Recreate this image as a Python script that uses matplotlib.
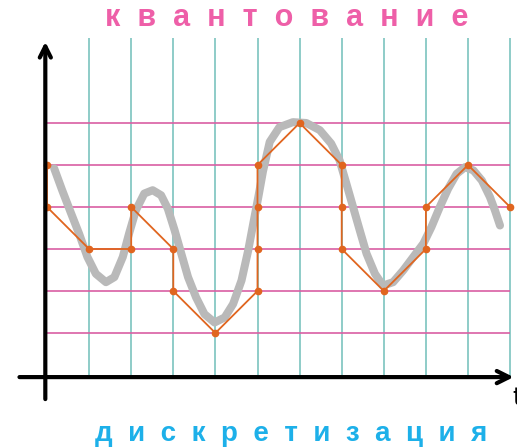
import matplotlib.pyplot as plt

# smooth analog signal (grid units: 1 = one cell)
curve_t = [0.17, 0.36, 0.56, 0.76, 0.96, 1.16, 1.40, 1.60, 1.80, 1.95, 2.11, 2.31,
           2.51, 2.71, 2.87, 3.03, 3.19, 3.35, 3.54, 3.74, 3.98, 4.22, 4.42, 4.62,
           4.78, 4.90, 5.02, 5.13, 5.29, 5.52, 5.84, 6.16, 6.48, 6.75, 6.95, 7.11,
           7.27, 7.43, 7.59, 7.79, 7.98, 8.22, 8.46, 8.70, 8.94, 9.13, 9.33, 9.53,
           9.73, 9.93, 10.13, 10.33, 10.52, 10.64, 10.76]
curve_v = [4.92, 4.40, 3.88, 3.37, 2.81, 2.41, 2.21, 2.33, 2.81, 3.37, 3.92, 4.32,
           4.40, 4.28, 3.96, 3.45, 2.89, 2.33, 1.85, 1.45, 1.25, 1.37, 1.69, 2.25,
           2.97, 3.61, 4.24, 4.85, 5.55, 5.90, 6.02, 6.00, 5.83, 5.51, 5.11, 4.56,
           4.00, 3.44, 2.89, 2.41, 2.13, 2.21, 2.49, 2.81, 3.13, 3.52, 4.00, 4.44,
           4.79, 4.95, 4.87, 4.63, 4.24, 3.92, 3.56]

# sampled / quantized signal
sample_t = [0, 0, 1, 2, 2, 3, 3, 4, 5, 5, 5, 5, 6, 7, 7, 7, 8, 9, 9, 10, 11]
sample_v = [5, 4, 3, 3, 4, 3, 2, 1, 2, 3, 4, 5, 6, 5, 4, 3, 2, 3, 4, 5, 4]

time_lines = list(range(1, 12))
level_lines = [1, 2, 3, 4, 5, 6]

top_label = 'к  в  а  н  т  о  в  а  н  и  е'
bottom_label = 'д  и  с  к  р  е  т  и  з  а  ц  и  я'

W, H = 517, 447
fig = plt.figure(figsize=(W / 100, H / 100), dpi=100)
ax = fig.add_axes([0, 0, 1, 1])
ax.set_xlim(-47 / 42.1, (W - 47) / 42.1)
ax.set_ylim(-(H - 375) / 42, 375 / 42)
ax.axis('off')

# grid
ax.vlines(time_lines, -0.05, 8.02, color='#7cc3bf', lw=1.2, zorder=1)
ax.hlines(level_lines, 0, 11, color='#d95fa3', lw=1.2, zorder=1)

# analog curve
ax.plot(curve_t, curve_v, color='#b9b9b9', lw=5.8, solid_capstyle='round',
        solid_joinstyle='round', zorder=2)

# quantized samples
ax.plot(sample_t, sample_v, '-o', color='#e0651f', lw=1.3, ms=4.5, zorder=3)

# axes with arrows
ax.annotate('', xy=(11.15, -0.05), xytext=(-0.72, -0.05),
            arrowprops=dict(arrowstyle='->', lw=3, color='black',
                            mutation_scale=22), zorder=4)
ax.annotate('', xy=(-0.04, 8.0), xytext=(-0.04, -0.64),
            arrowprops=dict(arrowstyle='->', lw=3, color='black',
                            mutation_scale=20), zorder=4)
ax.text(11.18, -0.55, 't', fontsize=18, ha='center', va='center', color='black')

fig.text(287 / W, 1 - 18 / H, top_label, color='#ee5fa8', fontsize=22,
         fontweight='bold', family='Liberation Sans', ha='center', va='center')
fig.text(291 / W, 1 - 441 / H, bottom_label, color='#1db0e9', fontsize=20,
         fontweight='bold', family='Liberation Sans', ha='center', va='baseline')

fig.savefig('out.png', dpi=100)
